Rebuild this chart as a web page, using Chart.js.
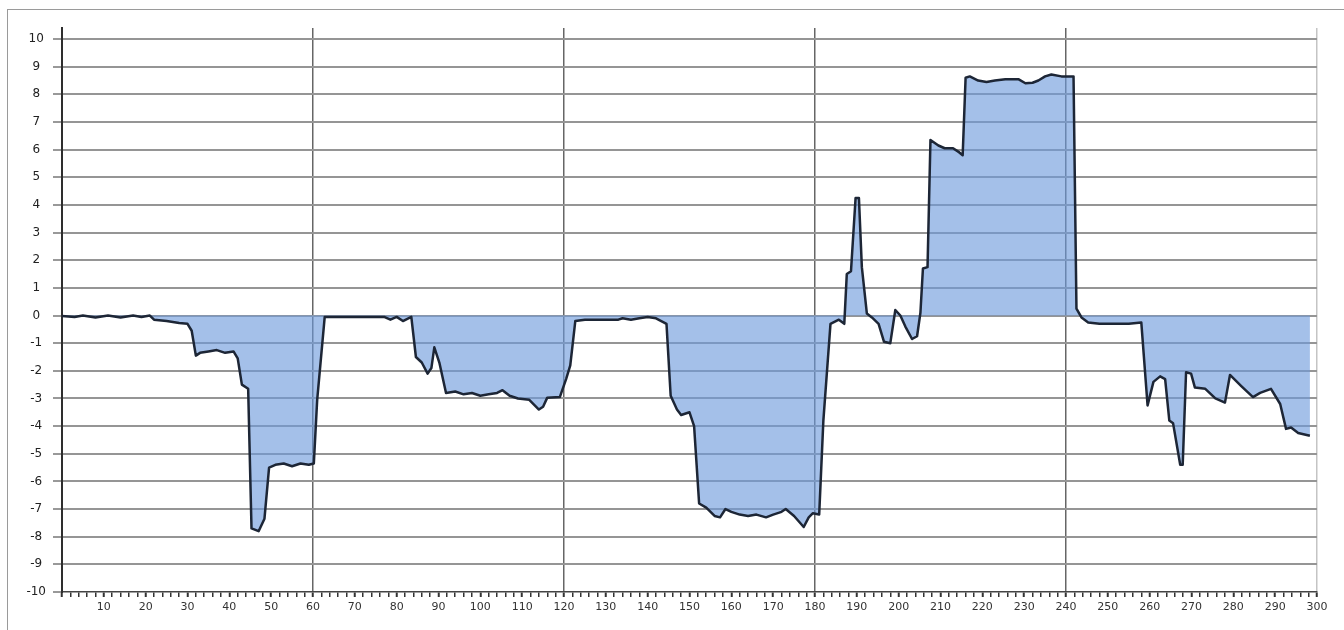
<!DOCTYPE html>
<html>
<head>
<meta charset="utf-8">
<script src="https://cdn.jsdelivr.net/npm/chart.js@4/dist/chart.umd.min.js"></script>
<style>
  html, body { margin: 0; padding: 0; background: #fff; }
  #wrap { position: relative; width: 1344px; height: 630px; }
  #frame { position: absolute; left: 7px; top: 9px; right: 0; bottom: 0;
           border-top: 1px solid #9a9a9a; border-left: 1px solid #9a9a9a; pointer-events: none; }
  canvas { position: absolute; left: 0; top: 0; }
</style>
</head>
<body>
<div id="wrap">
  <div id="frame"></div>
  <canvas id="chart" width="1344" height="630"></canvas>
</div>
<script>
// valori (x = campione, y = valore)
const xs = [
  0, 3, 5, 8, 11, 14, 17, 19, 21, 22, 25, 28, 30, 31, 32, 33, 35, 37, 39, 41,
  42, 43, 44.5, 45.3, 47, 48.4, 49.5, 51, 53, 55, 57, 59, 60.2, 61, 62.8, 66, 70, 74, 77, 78.5,
  80, 81.5, 83.5, 84.6, 86, 87.4, 88.3, 89, 90.2, 91.8, 94, 96, 98, 100, 102, 104, 105.3, 107, 109, 111.7,
  113, 114, 115, 116, 119, 120.5, 121.5, 122.7, 125, 130, 133, 134, 136, 138, 140, 142, 144.5, 145.5, 147, 148,
  150, 151.1, 152.3, 154, 156, 157.3, 158.6, 160, 162, 164, 166, 168.3, 170, 172, 173, 175, 177.3, 178.5, 179.5, 181,
  182, 183.7, 185.7, 187, 187.6, 188.6, 189.7, 190.5, 191.2, 192.4, 193.6, 195.2, 196.5, 198, 199.2, 200.4, 201.6, 203.2, 204.4, 205.2,
  205.8, 206.9, 207.6, 209.5, 211, 213, 214.5, 215.3, 216, 217, 219, 221, 223, 225.5, 228.6, 230.3, 232, 233.4, 235, 236.5,
  238.9, 241.8, 242.5, 243.7, 245.3, 248, 252, 255, 258, 259.5, 260.9, 262.5, 263.7, 264.7, 265.6, 267.3, 267.9, 268.7, 269.9, 270.8,
  273.3, 275.7, 278, 279.2, 281.9, 284.7, 286.4, 289, 291.2, 292.6, 293.8, 295.5, 298.3
];
const ys = [
  -0.02, -0.05, 0, -0.07, 0, -0.07, 0, -0.05, 0, -0.15, -0.2, -0.27, -0.3, -0.55, -1.45, -1.35, -1.3, -1.25, -1.35, -1.3,
  -1.55, -2.5, -2.65, -7.7, -7.8, -7.35, -5.5, -5.4, -5.35, -5.45, -5.35, -5.4, -5.35, -3.05, -0.05, -0.05, -0.05, -0.05, -0.05, -0.15,
  -0.05, -0.2, -0.05, -1.5, -1.7, -2.1, -1.9, -1.15, -1.7, -2.8, -2.75, -2.85, -2.8, -2.9, -2.85, -2.8, -2.7, -2.9, -3.0, -3.05,
  -3.25, -3.4, -3.3, -2.97, -2.95, -2.3, -1.8, -0.2, -0.15, -0.15, -0.15, -0.1, -0.15, -0.1, -0.05, -0.1, -0.3, -2.9, -3.4, -3.6,
  -3.5, -4.0, -6.8, -6.95, -7.25, -7.3, -7.0, -7.1, -7.2, -7.25, -7.2, -7.3, -7.2, -7.1, -7.0, -7.25, -7.65, -7.3, -7.15, -7.2,
  -3.8, -0.3, -0.15, -0.3, 1.5, 1.6, 4.25, 4.25, 1.75, 0.07, -0.07, -0.3, -0.95, -1.0, 0.2, 0.0, -0.4, -0.85, -0.75, 0.1,
  1.7, 1.75, 6.35, 6.15, 6.05, 6.05, 5.9, 5.8, 8.6, 8.65, 8.5, 8.45, 8.5, 8.55, 8.55, 8.4, 8.42, 8.5, 8.65, 8.72,
  8.65, 8.65, 0.25, -0.07, -0.25, -0.3, -0.3, -0.3, -0.25, -3.25, -2.4, -2.2, -2.3, -3.8, -3.9, -5.4, -5.4, -2.05, -2.1, -2.6,
  -2.65, -3.0, -3.15, -2.15, -2.55, -2.95, -2.8, -2.65, -3.2, -4.1, -4.05, -4.25, -4.35
];
const xMin = 0, xMax = 300, xStep = 2;
const yTicks = [-10, -9, -8, -7, -6, -5, -4, -3, -2, -1, 0, 1, 2, 3, 4, 5, 6, 7, 8, 9, 10];
const majorLines = [60, 120, 180, 240];

const points = xs.map((x, i) => ({ x: x, y: ys[i] }));

new Chart(document.getElementById('chart').getContext('2d'), {
  type: 'line',
  data: {
    datasets: [{
      data: points,
      borderColor: '#1d2636',
      borderWidth: 2.5,
      backgroundColor: 'rgba(108,154,220,0.62)',
      fill: 'origin',
      pointRadius: 0,
      tension: 0,
      borderJoinStyle: 'round'
    }]
  },
  options: {
    responsive: false,
    animation: false,
    layout: { padding: { left: 0, top: 28, right: 27, bottom: 0 } },
    plugins: { legend: { display: false }, tooltip: { enabled: false } },
    scales: {
      x: {
        type: 'linear',
        min: xMin,
        max: xMax,
        afterFit: s => { s.height = 38; },
        border: { display: true, color: '#444', width: 1.5 },
        grid: {
          color: c => majorLines.includes(c.tick.value) ? '#666'
            : c.tick.value === xMax ? '#c4c4c4' : 'transparent',
          lineWidth: 1.5,
          tickColor: '#333',
          tickWidth: c => c.tick.value % 10 === 0 ? 2 : 1.5,
          tickLength: 5
        },
        ticks: {
          stepSize: xStep,
          autoSkip: false,
          maxRotation: 0,
          padding: 4,
          color: '#333',
          font: { family: 'DejaVu Sans', size: 11 },
          callback: v => (v % 10 === 0 && v > 0) ? v : ''
        }
      },
      y: {
        min: yTicks[0],
        max: yTicks[yTicks.length - 1] + 0.4,
        afterFit: s => { s.width = 62; },
        afterBuildTicks: s => { s.ticks = yTicks.map(v => ({ value: v })); },
        border: { display: true, color: '#2e2e2e', width: 2 },
        grid: {
          color: c => c.tick.value === yTicks[0] ? 'transparent' : '#959595',
          lineWidth: 2,
          tickColor: '#999',
          tickLength: 9
        },
        ticks: {
          crossAlign: 'center',
          padding: 7,
          color: '#222',
          font: { family: 'DejaVu Sans', size: 12 }
        }
      }
    }
  }
});
</script>
</body>
</html>
